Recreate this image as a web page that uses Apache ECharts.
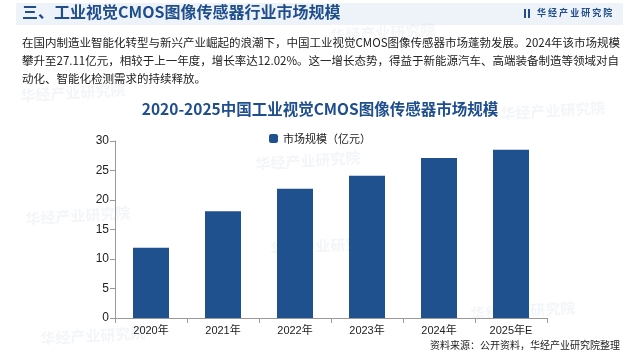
<!DOCTYPE html>
<html>
<head>
<meta charset="utf-8">
<script src="https://cdn.jsdelivr.net/npm/echarts@6/dist/echarts.min.js"></script>
<style>
  html, body { margin: 0; padding: 0; background: #fff; }
  #main { width: 640px; height: 354px; }
</style>
</head>
<body>
<div id="main"></div>
<script>
// 数据
const years = ['2020年', '2021年', '2022年', '2023年', '2024年', '2025年E']
const marketSize = [11.9, 18.1, 21.9, 24.1, 27.11, 28.5]

const paraLines = [
  '在国内制造业智能化转型与新兴产业崛起的浪潮下，中国工业视觉CMOS图像传感器市场蓬勃发展。2024年该市场规模',
  '攀升至27.11亿元，相较于上一年度，增长率达12.02%。这一增长态势，得益于新能源汽车、高端装备制造等领域对自',
  '动化、智能化检测需求的持续释放。'
]

const chart = echarts.init(document.getElementById('main'))
const font = '"Noto Sans CJK SC", "Microsoft YaHei", sans-serif'

// 水印
const marks = [[20, 82], [255, 150], [330, 22], [25, 205], [500, 100], [270, 235], [40, 325], [470, 300]]
let wm = marks.map(p => ({
  type: 'text', left: p[0], top: p[1], rotation: 0.06, z: -1,
  style: { text: '华经产业研究院', fill: 'rgba(200,210,225,0.22)', font: 'bold 15px ' + font }
}))

let option = {
  animation: false,
  legend: {
    top: 128, left: 'center', itemWidth: 9, itemHeight: 9, itemGap: 4,
    data: ['市场规模（亿元）'],
    textStyle: { color: '#222', fontSize: 11, fontFamily: font }
  },
  grid: { left: 115, right: 93, top: 141, bottom: 36 },
  xAxis: {
    type: 'category',
    data: years,
    axisLine: { lineStyle: { color: '#999' } },
    axisTick: { show: true, lineStyle: { color: '#999' } },
    axisLabel: { color: '#222', fontSize: 11, fontFamily: 'Arial, ' + font, margin: 7 }
  },
  yAxis: {
    type: 'value',
    min: 0, max: 30, interval: 5,
    axisLine: { show: true, lineStyle: { color: '#999' } },
    axisTick: { show: true, lineStyle: { color: '#999' } },
    splitLine: { show: false },
    axisLabel: { color: '#222', fontSize: 12, fontFamily: 'Arial', margin: 6 }
  },
  series: [{
    name: '市场规模（亿元）',
    type: 'bar',
    data: marketSize,
    barWidth: '50%',
    itemStyle: { color: '#20518f' }
  }],
  graphic: [
    { type: 'rect', shape: { x: 16, y: 3, width: 607, height: 22 }, style: { fill: '#eef2f9' }, z: -2 },
    { type: 'text', left: 22, top: 4, style: { text: '三、工业视觉CMOS图像传感器行业市场规模', fill: '#1f4e8c', font: 'bold 16px ' + font } },
    { type: 'rect', shape: { x: 524, y: 9, width: 2, height: 9 }, style: { fill: '#1f4e8c' } },
    { type: 'rect', shape: { x: 528, y: 9, width: 2, height: 9 }, style: { fill: '#1f4e8c' } },
    { type: 'text', left: 537, top: 8, style: { text: '华 经 产 业 研 究 院', fill: '#1f4e8c', font: 'bold 9px ' + font } },
    { type: 'text', left: 22, top: 34, style: { text: paraLines.join('\n'), fill: '#222', font: '11.5px ' + font, lineHeight: 18 } },
    { type: 'text', x: 320, y: 109, style: { text: '2020-2025中国工业视觉CMOS图像传感器市场规模', fill: '#1f4e8c', font: 'bold 15.5px ' + font, textAlign: 'center', textVerticalAlign: 'middle' } },
    { type: 'text', right: 20, top: 340, style: { text: '资料来源：公开资料，华经产业研究院整理', fill: '#222', font: '10px ' + font } }
  ].concat(wm)
}

chart.setOption(option)
</script>
</body>
</html>
